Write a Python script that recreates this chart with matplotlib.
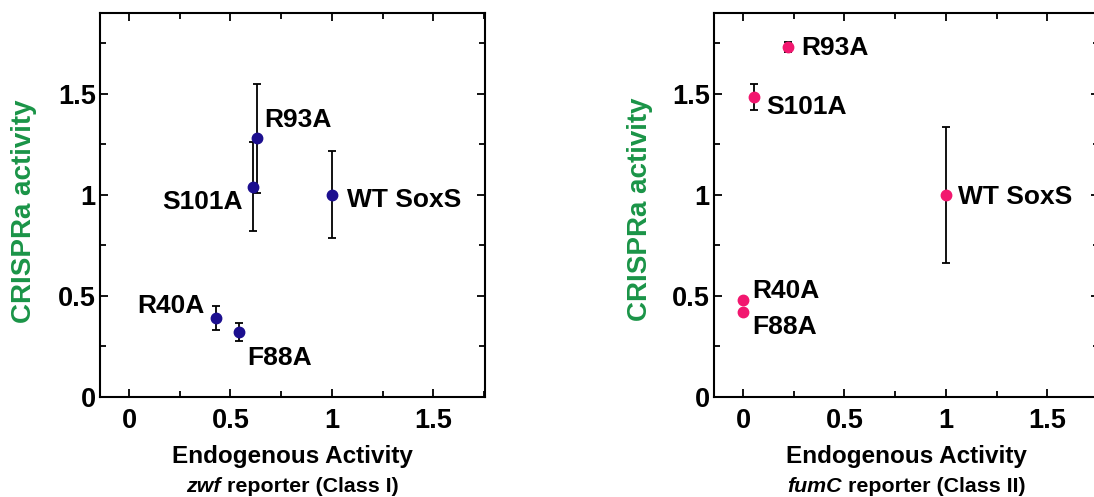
import matplotlib
matplotlib.use("Agg")
import matplotlib.pyplot as plt
from matplotlib.ticker import MultipleLocator, FixedLocator, FixedFormatter

plt.rcParams["font.family"] = ["Liberation Sans", "DejaVu Sans"]
plt.rcParams["font.weight"] = "bold"

# ==========================================
# Data
# ==========================================

labels = ["WT SoxS", "R93A", "S101A", "R40A", "F88A"]

zwf_x = [1.0, 0.63, 0.61, 0.43, 0.54]
zwf_y = [1.0, 1.28, 1.04, 0.39, 0.32]
zwf_err = [0.215, 0.27, 0.22, 0.06, 0.045]

fumc_x = [1.0, 0.22, 0.055, 0.0, 0.0]
fumc_y = [1.0, 1.73, 1.485, 0.48, 0.42]
fumc_err = [0.335, 0.025, 0.065, 0.01, 0.01]

tick_vals = [0, 0.5, 1, 1.5]
tick_text = ["0", "0.5", "1", "1.5"]

# label offsets in pixels from each point
zwf_offsets = [(15, -12), (7, 11), (-10, -22), (-12, 5), (9, -33)]
zwf_align = ["left", "left", "right", "right", "left"]
fumc_offsets = [(12, -9), (14, -8), (12, -17), (9, 2), (9, -22)]
fumc_align = ["left"] * 5

navy = "#1c0f8f"
pink = "#f2176f"
green = "#1a9447"

# ==========================================
# Figure
# ==========================================

fig = plt.figure(figsize=(10.94, 4.97), dpi=100)

ax1 = fig.add_axes([100 / 1094, 100 / 497, 385 / 1094, 384 / 497])
ax2 = fig.add_axes([714 / 1094, 100 / 497, 385 / 1094, 384 / 497])


def style_axes(ax):
    ax.set_xlim(-0.143, 1.755)
    ax.set_ylim(0, 1.9)
    ax.xaxis.set_major_locator(FixedLocator(tick_vals))
    ax.xaxis.set_major_formatter(FixedFormatter(tick_text))
    ax.yaxis.set_major_locator(FixedLocator(tick_vals))
    ax.yaxis.set_major_formatter(FixedFormatter(tick_text))
    ax.xaxis.set_minor_locator(MultipleLocator(0.25))
    ax.yaxis.set_minor_locator(MultipleLocator(0.25))
    ax.tick_params(which="both", direction="in", top=True, right=True,
                   width=1.3, labelsize=19.5)
    ax.tick_params(which="major", length=5.5)
    ax.tick_params(which="minor", length=4)
    ax.tick_params(axis="x", pad=8)
    ax.tick_params(axis="y", pad=3)
    for sp in ax.spines.values():
        sp.set_linewidth(1.5)
    for lab in ax.get_xticklabels() + ax.get_yticklabels():
        lab.set_fontweight("bold")


def draw_points(ax, xs, ys, errs, color, offsets, aligns):
    ax.errorbar(xs, ys, yerr=errs, fmt="o", color=color, markersize=7.5,
                ecolor="black", elinewidth=1.3, capsize=2.8, capthick=1.3,
                zorder=3)
    for x, y, name, off, ha in zip(xs, ys, labels, offsets, aligns):
        ax.annotate(name, xy=(x, y), xytext=off, textcoords="offset pixels",
                    ha=ha, va="baseline", fontsize=19, fontweight="bold")


style_axes(ax1)
style_axes(ax2)

draw_points(ax1, zwf_x, zwf_y, zwf_err, navy, zwf_offsets, zwf_align)
draw_points(ax2, fumc_x, fumc_y, fumc_err, pink, fumc_offsets, fumc_align)

# ==========================================
# Axis labels
# ==========================================

for ax in [ax1, ax2]:
    ax.text(0.5, -0.155, "Endogenous Activity", transform=ax.transAxes,
            ha="center", va="center", fontsize=17.5, fontweight="bold")

fig.text(24 / 1094, 1 - 211 / 497, "CRISPRa activity", rotation=90,
         ha="center", va="center", fontsize=20, fontweight="bold", color=green)
fig.text(640 / 1094, 1 - 209 / 497, "CRISPRa activity", rotation=90,
         ha="center", va="center", fontsize=20, fontweight="bold", color=green)

# second xlabel line: italic gene name + plain rest, centred together
renderer = fig.canvas.get_renderer()
for ax, gene, rest in [(ax1, "zwf", " reporter (Class I)"),
                       (ax2, "fumC", " reporter (Class II)")]:
    t1 = ax.text(0, -0.232, gene, transform=ax.transAxes, ha="left",
                 va="center", fontsize=15.4, fontweight="bold", style="italic")
    t2 = ax.text(0, -0.232, rest, transform=ax.transAxes, ha="left",
                 va="center", fontsize=15.4, fontweight="bold")
    w1 = t1.get_window_extent(renderer).width
    w2 = t2.get_window_extent(renderer).width
    axw = ax.get_window_extent(renderer).width
    start = 0.5 - (w1 + w2) / 2 / axw
    t1.set_x(start)
    t2.set_x(start + w1 / axw)

fig.savefig("out.png", dpi=100)
